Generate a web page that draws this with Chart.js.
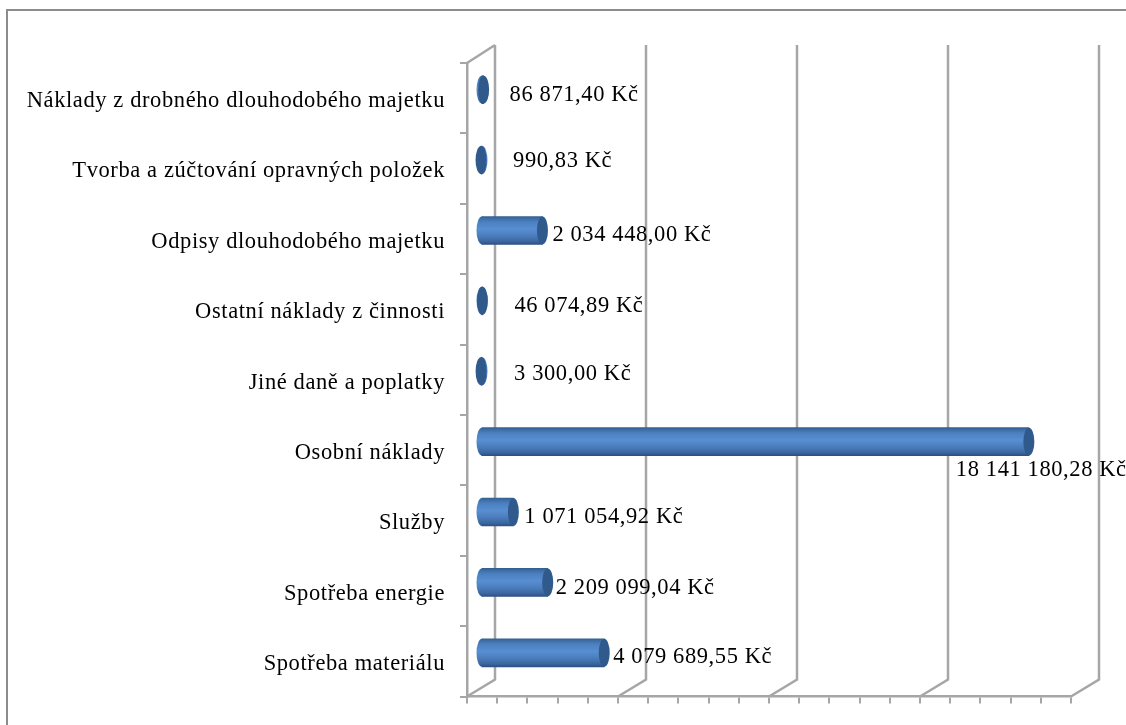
<!DOCTYPE html>
<html>
<head>
<meta charset="utf-8">
<title>Náklady</title>
<script src="https://cdn.jsdelivr.net/npm/chart.js@4"></script>
<style>
    html, body { margin: 0; padding: 0; background: #fff; }
    canvas { display: block; filter: blur(0.35px); }
</style>
</head>
<body>
<canvas id="myChart" width="1126" height="725"></canvas>
<script>
// bottom to top, as in the sheet
const categories = [
    'Spotřeba materiálu',
    'Spotřeba energie',
    'Služby',
    'Osobní náklady',
    'Jiné daně a poplatky',
    'Ostatní náklady z činnosti',
    'Odpisy dlouhodobého majetku',
    'Tvorba a zúčtování opravných položek',
    'Náklady z drobného dlouhodobého majetku'
];
const values = [4079689.55, 2209099.04, 1071054.92, 18141180.28, 3300.00, 46074.89, 2034448.00, 990.83, 86871.40];
const valueLabels = [
    '4 079 689,55 Kč',
    '2 209 099,04 Kč',
    '1 071 054,92 Kč',
    '18 141 180,28 Kč',
    '3 300,00 Kč',
    '46 074,89 Kč',
    '2 034 448,00 Kč',
    '990,83 Kč',
    '86 871,40 Kč'
];

const axisMax = 20000000;
const minorStep = 1000000;
const majorStep = 5000000;

// label nudges from the end of each bar, placed by hand like in the original
const labelNudge = [[9, 4], [8, 6], [11, 5], [-73, 28], [33, 3], [32, 5], [10, 5], [32, 1], [26, 5]];

const depthX = 28;
const depthY = 17;
const wallColor = '#a6a6a6';
const serif = '"Liberation Serif", "Times New Roman", serif';
const textSpacing = '0.6px';
const textSize = 22.5;

// the fill happens inside the translated bar plane, so no depth shift here
function barGradient(ctx, chart, index) {
    const yMid = chart.scales.y.getPixelForValue(index);
    const g = ctx.createLinearGradient(0, yMid - 14, 0, yMid + 14);
    g.addColorStop(0, '#33608f');
    g.addColorStop(0.08, '#3f6fa9');
    g.addColorStop(0.2, '#4c80c0');
    g.addColorStop(0.45, '#588fd3');
    g.addColorStop(0.7, '#4a7cbb');
    g.addColorStop(0.9, '#3a659f');
    g.addColorStop(1, '#2d507f');
    return g;
}

const walls = {
    id: 'walls',
    beforeDraw(chart) {
        const ctx = chart.ctx;
        ctx.letterSpacing = textSpacing;
        ctx.save();
        ctx.strokeStyle = '#8c8c8c';
        ctx.lineWidth = 2;
        ctx.beginPath();
        ctx.moveTo(7, 725);
        ctx.lineTo(7, 10);
        ctx.lineTo(1126, 10);
        ctx.stroke();
        ctx.restore();
    },
    beforeDatasetsDraw(chart) {
        const ctx = chart.ctx;
        const area = chart.chartArea;
        const x = chart.scales.x;
        ctx.save();
        ctx.strokeStyle = wallColor;
        ctx.lineWidth = 2.5;
        ctx.beginPath();
        ctx.moveTo(area.left, area.top);
        ctx.lineTo(area.left + depthX, area.top - depthY - 1);
        x.ticks.forEach(t => {
            if (t.value % majorStep !== 0) return;
            const px = x.getPixelForValue(t.value);
            ctx.moveTo(px, area.bottom);
            ctx.lineTo(px + depthX, area.bottom - depthY);
            ctx.lineTo(px + depthX, area.top - depthY - 1);
        });
        ctx.stroke();
        ctx.restore();
        // bars sit halfway into the depth of the chart
        ctx.save();
        ctx.translate(depthX / 2, -depthY / 2);
    },
    afterDatasetsDraw(chart) {
        const ctx = chart.ctx;
        const meta = chart.getDatasetMeta(0);
        meta.data.forEach(bar => {
            const r = bar.height / 2;
            ctx.fillStyle = bar.options.backgroundColor;
            ctx.beginPath();
            ctx.ellipse(bar.base, bar.y, 5.5, r, 0, 0, Math.PI * 2);
            ctx.fill();
            ctx.fillStyle = '#30598c';
            ctx.beginPath();
            ctx.ellipse(bar.x, bar.y, 5.5, r, 0, 0, Math.PI * 2);
            ctx.fill();
        });
        ctx.fillStyle = '#000';
        ctx.font = textSize + 'px ' + serif;
        ctx.textBaseline = 'middle';
        meta.data.forEach((bar, i) => {
            ctx.fillText(valueLabels[i], bar.x + labelNudge[i][0], bar.y + labelNudge[i][1]);
        });
        ctx.restore();
    }
};

new Chart(document.getElementById('myChart').getContext('2d'), {
    type: 'bar',
    data: {
        labels: categories,
        datasets: [{
            data: values,
            barThickness: 28,
            borderWidth: 0,
            clip: false,
            backgroundColor: c => c.chart.chartArea ? barGradient(c.chart.ctx, c.chart, c.dataIndex) : '#4c7fc0'
        }]
    },
    plugins: [walls],
    options: {
        indexAxis: 'y',
        responsive: false,
        animation: false,
        devicePixelRatio: 1,
        layout: { padding: { top: 63, right: 55, left: 0, bottom: 0 } },
        plugins: { legend: { display: false }, tooltip: { enabled: false } },
        scales: {
            x: {
                min: 0,
                max: axisMax,
                afterFit: s => { s.height = 28; },
                ticks: { display: false, stepSize: minorStep, autoSkip: false },
                grid: { drawOnChartArea: false, color: wallColor, lineWidth: 2, tickLength: 7 },
                border: { color: wallColor, width: 2.5 }
            },
            y: {
                reverse: true,
                afterFit: s => { s.width = 467; },
                ticks: { color: '#000', padding: 15, labelOffset: 3, autoSkip: false, font: { family: serif, size: textSize } },
                grid: { drawOnChartArea: false, color: wallColor, lineWidth: 2, tickLength: 7 },
                border: { color: wallColor, width: 2.5 }
            }
        }
    }
});
</script>
</body>
</html>
